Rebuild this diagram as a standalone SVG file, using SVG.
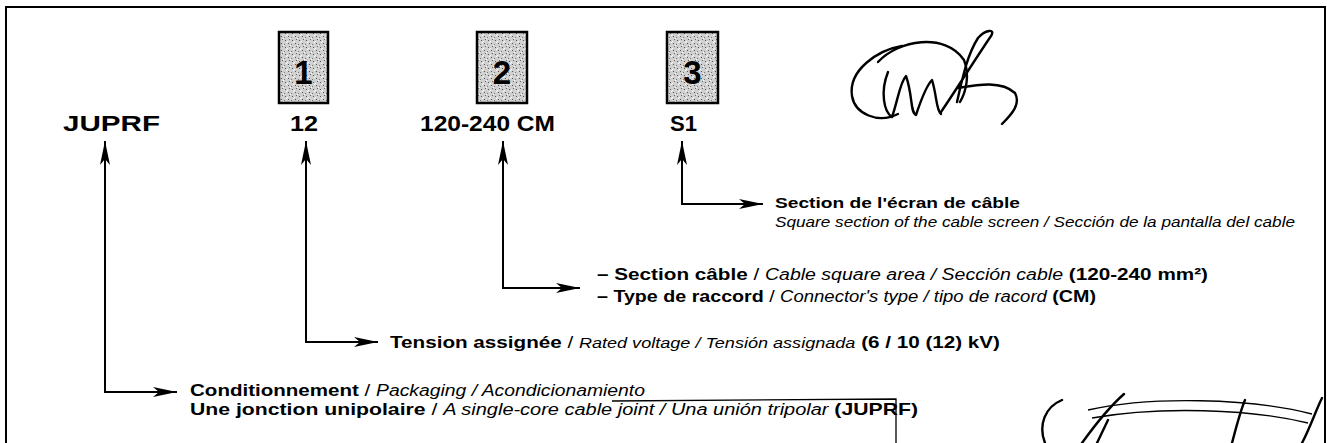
<svg xmlns="http://www.w3.org/2000/svg" width="1327" height="443" viewBox="0 0 1327 443">
<style>
text{font-family:"Liberation Sans",Arial,sans-serif;fill:#000}
.b{font-weight:bold}
.i{font-style:italic}
.lbl{font-size:22px;font-weight:bold}
.dig{font-size:33px;font-weight:bold;text-anchor:middle}
.box{fill:url(#stip);stroke:#000;stroke-width:2.5}
.con{fill:none;stroke:#000;stroke-width:2;marker-start:url(#ahs);marker-end:url(#ah)}
.ink{fill:none;stroke:#000;stroke-width:2.4;stroke-linecap:round;stroke-linejoin:round}
.thin{fill:none;stroke:#000;stroke-width:1.3}
</style>
<defs>
<pattern id="stip" width="7" height="7" patternUnits="userSpaceOnUse">
<rect width="7" height="7" fill="#d0d0d0"/>
<rect x="1" y="1" width="1" height="1" fill="#555"/>
<rect x="4" y="2" width="1" height="1" fill="#777"/>
<rect x="2" y="4" width="1" height="1" fill="#666"/>
<rect x="5" y="5" width="1" height="1" fill="#555"/>
<rect x="6" y="0" width="1" height="1" fill="#fff"/>
<rect x="0" y="6" width="1" height="1" fill="#fff"/>
<rect x="3" y="3" width="1" height="1" fill="#fff"/>
</pattern>
<marker id="ah" markerUnits="userSpaceOnUse" markerWidth="27" markerHeight="11" refX="24" refY="5" orient="auto">
<path d="M0,0 L24,5 L0,10 L6,5 Z" fill="#000"/>
</marker>
<marker id="ahs" markerUnits="userSpaceOnUse" markerWidth="27" markerHeight="11" refX="24" refY="5" orient="auto-start-reverse">
<path d="M0,0 L24,5 L0,10 L6,5 Z" fill="#000"/>
</marker>
</defs>
<rect width="1327" height="443" fill="#fff"/>
<path d="M6,443 V7 H1325 V443" fill="none" stroke="#000" stroke-width="2"/>

<g id="code-jupr">
<text class="lbl" x="63" y="131" textLength="97" lengthAdjust="spacingAndGlyphs">JUPRF</text>
</g>
<g id="code-1">
<rect class="box" x="279" y="32" width="49" height="71"/>
<text class="dig" x="303.5" y="84">1</text>
<text class="lbl" x="290" y="131" textLength="28" lengthAdjust="spacingAndGlyphs">12</text>
</g>
<g id="code-2">
<rect class="box" x="477" y="32" width="50" height="71"/>
<text class="dig" x="502" y="84">2</text>
<text class="lbl" x="420" y="131" textLength="135" lengthAdjust="spacingAndGlyphs">120-240 CM</text>
</g>
<g id="code-3">
<rect class="box" x="667" y="32" width="51" height="71"/>
<text class="dig" x="692.5" y="84">3</text>
<text class="lbl" x="670" y="131" textLength="27" lengthAdjust="spacingAndGlyphs">S1</text>
</g>

<g id="connectors">
<path class="con" d="M105,141 V392 H177"/>
<path class="con" d="M306,141 V342 H378"/>
<path class="con" d="M503,141 V288 H580"/>
<path class="con" d="M682,141 V204 H763"/>
</g>

<g id="desc-3">
<text x="775" y="208" font-size="14" class="b" textLength="245" lengthAdjust="spacingAndGlyphs">Section de l'écran de câble</text>
<text x="775" y="227" font-size="14" class="i" textLength="520" lengthAdjust="spacingAndGlyphs">Square section of the cable screen / Sección de la pantalla del cable</text>
</g>
<g id="desc-2">
<text x="597" y="280" font-size="17" textLength="611" lengthAdjust="spacingAndGlyphs"><tspan class="b">– Section câble</tspan> / <tspan class="i" font-size="16">Cable square area / Sección cable</tspan> <tspan class="b">(120-240 mm²)</tspan></text>
<text x="597" y="302" font-size="17" textLength="499" lengthAdjust="spacingAndGlyphs"><tspan class="b">– Type de raccord</tspan> / <tspan class="i" font-size="16">Connector's type / tipo de racord</tspan> <tspan class="b">(CM)</tspan></text>
</g>
<g id="desc-1">
<text x="390" y="348" font-size="16" textLength="610" lengthAdjust="spacingAndGlyphs"><tspan class="b">Tension assignée</tspan> / <tspan class="i" font-size="14">Rated voltage / Tensión assignada</tspan>  <tspan class="b">(6 / 10 (12) kV)</tspan></text>
</g>
<g id="desc-0">
<text x="190" y="396" font-size="17" textLength="455" lengthAdjust="spacingAndGlyphs"><tspan class="b">Conditionnement</tspan> / <tspan class="i" font-size="16">Packaging / Acondicionamiento</tspan></text>
<text x="190" y="415" font-size="17" textLength="728" lengthAdjust="spacingAndGlyphs"><tspan class="b">Une jonction unipolaire</tspan> / <tspan class="i" font-size="16">A single-core cable joint /  Una unión tripolar</tspan> <tspan class="b">(JUPRF)</tspan></text>
</g>

<g id="stamp-box">
<path class="thin" d="M612,401 L896,399 V443"/>
</g>

<g id="signature-top">
<path class="ink" d="M902,46 C878,50 848,70 852,96 C855,114 878,124 898,114"/>
<path class="ink" d="M878,62 C898,40 945,32 964,60 C970,75 966,92 960,102"/>
<path class="ink" d="M888,72 C880,92 884,112 892,117 C898,100 900,82 906,76 C913,96 910,112 916,115 C921,100 926,86 932,80 C937,96 936,110 941,114"/>
<path class="ink" d="M941,112 C956,90 976,58 991,36 C996,28 985,30 978,38 C967,55 962,80 957,102"/>
<path class="ink" d="M958,88 C976,85 1001,80 1015,93 C1021,104 1012,114 1002,124"/>
</g>

<g id="signature-bottom">
<path class="ink" d="M1062,400 C1045,407 1038,425 1045,443"/>
<path class="ink" d="M1082,443 C1095,425 1108,408 1124,394"/>
<path class="ink" d="M1097,443 L1108,420"/>
<path class="thin" d="M1088,410 C1150,396 1250,398 1312,414"/>
<path class="thin" d="M1092,418 C1160,406 1250,409 1308,423"/>
<path class="ink" d="M1232,443 C1236,428 1240,412 1245,400"/>
<path class="ink" d="M1302,443 C1310,428 1316,410 1322,398"/>
</g>
</svg>
